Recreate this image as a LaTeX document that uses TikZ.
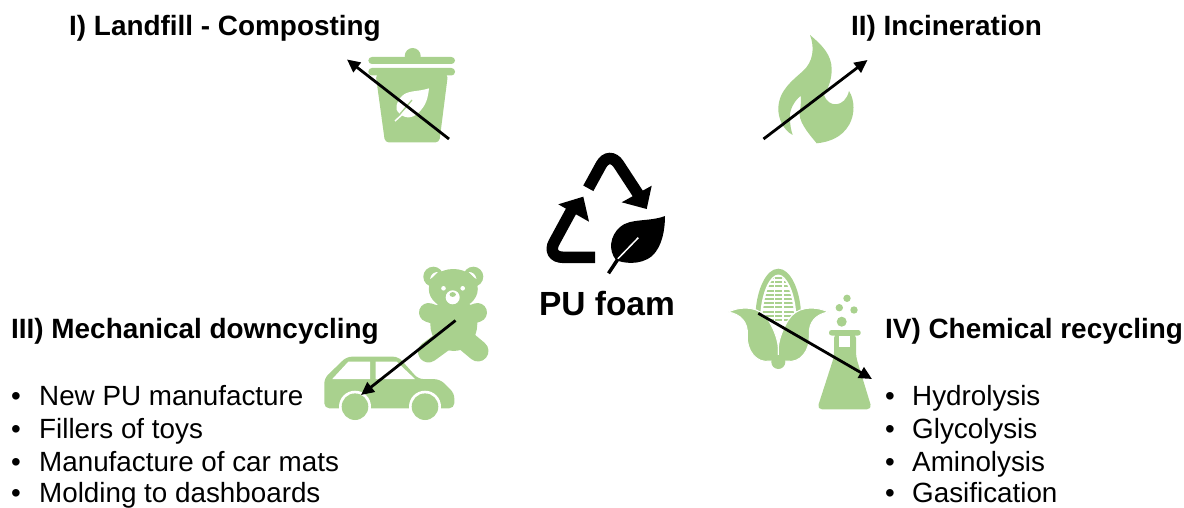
\documentclass[tikz,border=0pt]{standalone}
\usepackage{fontspec}
\setmainfont{Liberation Sans}
\usetikzlibrary{arrows.meta,positioning}
\definecolor{icongreen}{HTML}{A9D18E}

\begin{document}
\begin{tikzpicture}[x=1pt,y=-1pt,
    heading/.style={anchor=base west, inner sep=0pt, font=\fontsize{27.9}{30}\selectfont\bfseries},
    listitem/.style={anchor=base west, inner sep=0pt, font=\fontsize{27.8}{30}\selectfont},
    route/.style={line width=2.8pt, -{Triangle[length=13pt,width=12pt]}},
    icon/.style={fill=icongreen, draw=none},
    cutout/.style={fill=white, draw=none},
    swirl/.style={draw=black, line width=11.5pt, rounded corners=17pt}]
\useasboundingbox (0,0) rectangle (1184,508);

% headings
\node[heading] (landfill) at (69,36) {I) Landfill - Composting};
\node[heading] (incineration) at (851,36) {II) Incineration};
\node[heading] (mechanical) at (11,338) {III) Mechanical downcycling};
\node[heading] (chemical) at (885,338) {IV) Chemical recycling};
\node[heading, anchor=base, font=\fontsize{33.5}{36}\selectfont\bfseries] (foam) at (607,315) {PU foam};

% lists
\foreach \row/\y/\txt in {1/405/New PU manufacture, 2/438/Fillers of toys, 3/471/Manufacture of car mats, 4/502/Molding to dashboards} {
  \node[listitem] (mechbullet\row) at (11,\y) {•};
  \node[listitem] (mechitem\row) at (39,\y) {\txt};
}
\foreach \row/\y/\txt in {1/405/Hydrolysis, 2/438/Glycolysis, 3/471/Aminolysis, 4/502/Gasification} {
  \node[listitem] (chembullet\row) at (885,\y) {•};
  \node[listitem] (chemitem\row) at (912,\y) {\txt};
}

% recycling sign
\draw[swirl] (588.3,188.3) -- (609.3,150) -- (638.3,194.3);
\fill (646.7,209) -- (621.7,202.3) -- (651.7,185.7) -- cycle;
\draw[swirl] (595,257.3) -- (546,257.3) -- (571.7,210);
\fill (583.3,196.7) -- (558.3,204.3) -- (589,221.7) -- cycle;
\fill (665,216) .. controls (650,222) and (630,218) .. (620,227)
  .. controls (610,236) and (608,250) .. (616,260)
  .. controls (622,263) and (640,266) .. (652,256)
  .. controls (662,247) and (665,230) .. (665,216) -- cycle;
\draw[white, line width=1.5pt] (638.3,237.7) -- (616.7,260);
\draw[line width=3.5pt] (618,259) -- (608.5,273.3);

% bin
\fill[icon] (412.7,56) circle (8);
\fill[icon, rounded corners=3.6pt] (368.3,57) rectangle (455,64);
\fill[icon, rounded corners=3.6pt] (368.3,68) rectangle (455,75.5);
\fill[icon, rounded corners=4pt] (375.6,74) -- (448,74) -- (439.3,142.5) -- (385,142.5) -- cycle;
\fill[cutout] (429,88.3) .. controls (418,92) and (408,90) .. (402,96)
  .. controls (396,102) and (395,110) .. (398,112)
  .. controls (404,119) and (412,119) .. (418,113)
  .. controls (426,106) and (428,98) .. (429,88.3) -- cycle;
\draw[white, line width=1.5pt] (405,112) -- (395,121);
\draw[icongreen, line width=1.3pt] (412,100) -- (400,114);

% flame
\fill[icon] (810,35) .. controls (822,45) and (832,55) .. (831.7,70)
  .. controls (831.5,82) and (827,90) .. (824,95)
  .. controls (828,108) and (845,108) .. (849,91)
  .. controls (855,100) and (855,115) .. (849,125)
  .. controls (842,137) and (830,142) .. (816.7,143.3)
  .. controls (808,133) and (797,120) .. (800,110)
  .. controls (801,105) and (801,100) .. (800.7,95.7)
  .. controls (793,102) and (789,112) .. (790,118)
  .. controls (790,125) and (791,130) .. (792.7,135)
  .. controls (783,130) and (778,118) .. (778.3,108)
  .. controls (779,90) and (793,80) .. (803,71)
  .. controls (813,62) and (815,48) .. (810,35) -- cycle;

% teddy
\fill[icon] (433.3,276.7) circle (10);
\fill[icon] (473.3,276.7) circle (10);
\fill[cutout] (430,279) .. controls (431,274) and (434,272) .. (438,272) .. controls (435,274) and (434,277) .. (430,279) -- cycle;
\fill[cutout] (476.5,279) .. controls (475.5,274) and (472.5,272) .. (468.5,272) .. controls (471.5,274) and (472.5,277) .. (476.5,279) -- cycle;
\draw[icongreen, line width=19pt, line cap=round] (428.5,312.5) -- (445,318);
\draw[icongreen, line width=19pt, line cap=round] (477.5,312.5) -- (462,318);
\draw[icongreen, line width=21pt, line cap=round] (428.5,352) -- (445,340);
\draw[icongreen, line width=21pt, line cap=round] (478,351) -- (460,336);
\fill[icon] (453.8,324) ellipse (23.5 and 27);
\fill[icon] (453.3,289) ellipse (24.5 and 20);
\fill[cutout] (443.5,288.3) circle (2.3);
\fill[cutout] (462.7,288.3) circle (2.3);
\fill[cutout] (452.7,297.3) circle (7);
\fill[icon] (452.7,294.5) ellipse (3.2 and 2.4);

% car
\fill[icon, rounded corners=5pt] (324.3,408.3) -- (324.3,378.3) -- (346.7,356.7) -- (398.3,356.7) -- (418.3,379) -- (440,379.3)
  -- (454.3,393.3) -- (454.3,408.3) -- cycle;
\fill[cutout] (332.3,379) -- (348.3,361.7) -- (370,361.7) -- (370,379) -- cycle;
\fill[cutout] (375.7,361.7) -- (396.7,361.7) -- (415,379) -- (375.7,379) -- cycle;
\foreach \wheel in {355,425} {
  \fill[cutout] (\wheel,406.7) circle (16);
  \fill[icon] (\wheel,406.7) circle (13.3);
}

% corn
\fill[icon] (755.7,311) .. controls (757,290) and (766,268.7) .. (778.3,268.7)
  .. controls (790.6,268.7) and (799.6,290) .. (800.9,311) -- cycle;
\fill[white] (760.5,312) .. controls (762,292) and (770,274.5) .. (778.3,274.5)
    .. controls (786.6,274.5) and (794.6,292) .. (796.1,312) -- (778.3,345) -- cycle;
\begin{scope}
  \clip (762.5,316) .. controls (764,294) and (771,276) .. (778.3,276)
    .. controls (785.6,276) and (792.6,294) .. (794.1,316) -- (778.3,345) -- cycle;
  \foreach \y in {278,282.2,286.4,290.6,294.8,299,303.2,307.4,311.6,315.8,320} {
    \draw[icongreen, line width=1.9pt] (755,\y) -- (802,\y);
  }
  \foreach \x in {774.3,783} {
    \draw[white, line width=1.6pt] (\x,270) -- (\x,330);
  }
\end{scope}
\foreach \flip in {1,-1} {
  \begin{scope}[shift={(778.3,0)},xscale=\flip]
    \fill[icon, draw=white, line width=1pt] (-50,312) .. controls (-35,305) and (-18,307) .. (-10,320)
      .. controls (-5,328) and (-1,338) .. (0,347) -- (0,361) -- (-8,361)
      .. controls (-22,364) and (-32,350) .. (-31,335)
      .. controls (-30,322) and (-38,314) .. (-50,312) -- cycle;
  \end{scope}
}
\fill[icon] (778.3,362) circle (7);

% flask
\fill[icon, rounded corners=2.5pt] (829,330) rectangle (860.7,335.5);
\fill[icon, rounded corners=5pt] (834,333) -- (834,356.7) -- (817,409.3) -- (872,409.3) -- (856,356.7) -- (856,333) -- cycle;
\fill[cutout] (839.3,336) rectangle (850,346.7);
\fill[icon] (841.7,321.7) circle (5);
\fill[icon] (839.3,307.7) circle (3.7);
\fill[icon] (854,310) circle (3.7);
\fill[icon] (847,298.3) circle (3.7);

% routes
\coordinate (landfillstart) at (449,139);
\coordinate (landfillend) at (347,59.5);
\coordinate (burnstart) at (763.5,139);
\coordinate (burnend) at (867.5,60);
\coordinate (mechstart) at (455.5,320.5);
\coordinate (mechend) at (361,395);
\coordinate (chemstart) at (758.3,313.3);
\coordinate (chemend) at (872,379);
\draw[route] (landfillstart) -- (landfillend);
\draw[route] (burnstart) -- (burnend);
\draw[route] (mechstart) -- (mechend);
\draw[route] (chemstart) -- (chemend);
\end{tikzpicture}
\end{document}
